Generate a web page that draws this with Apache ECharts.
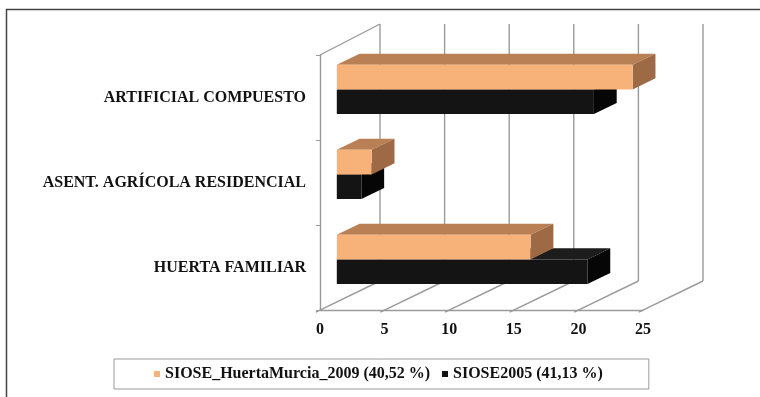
<!DOCTYPE html>
<html>
<head>
<meta charset="utf-8">
<style>
  html, body { margin: 0; padding: 0; background: #fff; }
  #chart { width: 760px; height: 397px; }
</style>
<script src="https://cdn.jsdelivr.net/npm/echarts@6/dist/echarts.min.js"></script>
</head>
<body>
<div id="chart"></div>
<script>
// Land-cover classes (bottom to top) and their share, in percent
const categories = ['HUERTA FAMILIAR', 'ASENT. AGRÍCOLA RESIDENCIAL', 'ARTIFICIAL COMPUESTO'];
const huertaMurcia2009 = [15.0, 2.7, 22.9];
const siose2005 = [19.4, 1.9, 19.9];
const xTicks = [0, 5, 10, 15, 20, 25];
const seriesNames = ['SIOSE_HuertaMurcia_2009 (40,52 %)', 'SIOSE2005 (41,13 %)'];

// Pseudo-3D projection: offset of the back wall relative to the front plane
const DX = 60, DY = -29;
// Bars sit between these fractions of the depth
const D0 = 0.28, D1 = 0.66;
const FONT = "'Liberation Serif', 'Times New Roman', serif";

const chart = echarts.init(document.getElementById('chart'), null, { renderer: 'canvas' });

function wallRenderer(params, api) {
  const cs = params.coordSys;
  const v = api.value(0);
  const p = api.coord([v, 0]);
  const x = p[0];
  const top = cs.y, bottom = cs.y + cs.height;
  const lineStyle = { stroke: '#9a9a9a', lineWidth: 1.4 };
  const children = [
    { type: 'line', shape: { x1: x + DX, y1: top + DY - 2, x2: x + DX, y2: bottom + DY }, style: lineStyle },
    { type: 'line', shape: { x1: x - 0.07 * DX, y1: bottom - 0.07 * DY, x2: x + DX, y2: bottom + DY }, style: lineStyle }
  ];
  if (v === 0) {
    children.push({ type: 'line', shape: { x1: x, y1: top, x2: x + DX, y2: top + DY - 2 }, style: lineStyle });
  }
  return { type: 'group', children: children };
}

function barRenderer(slot, front, topColor, side) {
  return function (params, api) {
    const catIdx = api.value(1);
    const val = api.value(0);
    const c0 = api.coord([0, catIdx]);
    const c1 = api.coord([val, catIdx]);
    const band = api.size([0, 1])[1];
    const bh = band * 0.29;
    const fx = D0 * DX, fy = D0 * DY;
    const ddx = (D1 - D0) * DX, ddy = (D1 - D0) * DY;
    const y0 = c0[1] + (slot === 0 ? -bh : 0) + fy;
    const x0 = c0[0] + fx, x1 = c1[0] + fx;
    return {
      type: 'group',
      children: [
        { type: 'polygon', shape: { points: [[x0, y0], [x1, y0], [x1 + ddx, y0 + ddy], [x0 + ddx, y0 + ddy]] },
          style: { fill: topColor } },
        { type: 'polygon', shape: { points: [[x1, y0], [x1, y0 + bh], [x1 + ddx, y0 + bh + ddy], [x1 + ddx, y0 + ddy]] },
          style: { fill: side } },
        { type: 'rect', shape: { x: x0, y: y0, width: x1 - x0, height: bh },
          style: { fill: front } }
      ]
    };
  };
}

const option = {
  animation: false,
  backgroundColor: '#ffffff',
  graphic: [{
    type: 'rect',
    shape: { x: 6.5, y: 9.5, width: 900, height: 900 },
    style: { fill: 'none', stroke: '#444', lineWidth: 1.5 },
    silent: true
  }],
  grid: { left: 320, right: 117, top: 55, bottom: 87 },
  legend: {
    left: 114,
    top: 359,
    padding: [7, 46, 7, 40],
    borderColor: '#9a9a9a',
    borderWidth: 1,
    itemWidth: 6,
    itemHeight: 6,
    itemGap: 12,
    icon: 'rect',
    data: seriesNames,
    textStyle: { fontFamily: FONT, fontWeight: 'bold', fontSize: 16, color: '#111' }
  },
  xAxis: {
    type: 'value',
    min: 0,
    max: 25,
    interval: 5,
    axisLine: { show: true, lineStyle: { color: '#9a9a9a', width: 1.4 } },
    axisTick: { show: false },
    splitLine: { show: false },
    axisLabel: { margin: 12, fontFamily: FONT, fontWeight: 'bold', fontSize: 16, color: '#111' }
  },
  yAxis: {
    type: 'category',
    data: categories,
    boundaryGap: true,
    axisLine: { show: true, lineStyle: { color: '#9a9a9a', width: 1.4 } },
    axisTick: { show: true, length: 4, lineStyle: { color: '#9a9a9a' } },
    axisLabel: { margin: 14, fontFamily: FONT, fontWeight: 'bold', fontSize: 16, color: '#111' }
  },
  series: [
    {
      type: 'custom',
      name: 'walls',
      silent: true,
      renderItem: wallRenderer,
      encode: { x: 0 },
      data: xTicks.map(v => [v])
    },
    {
      type: 'custom',
      name: seriesNames[1],
      color: '#111111',
      renderItem: barRenderer(1, '#141414', '#1c1c1c', '#060606'),
      encode: { x: 0, y: 1 },
      data: siose2005.map((v, i) => [v, i])
    },
    {
      type: 'custom',
      name: seriesNames[0],
      color: '#f7b27a',
      renderItem: barRenderer(0, '#f7b27a', '#b97f55', '#9d6a45'),
      encode: { x: 0, y: 1 },
      data: huertaMurcia2009.map((v, i) => [v, i])
    }
  ]
};

chart.setOption(option);
</script>
</body>
</html>
